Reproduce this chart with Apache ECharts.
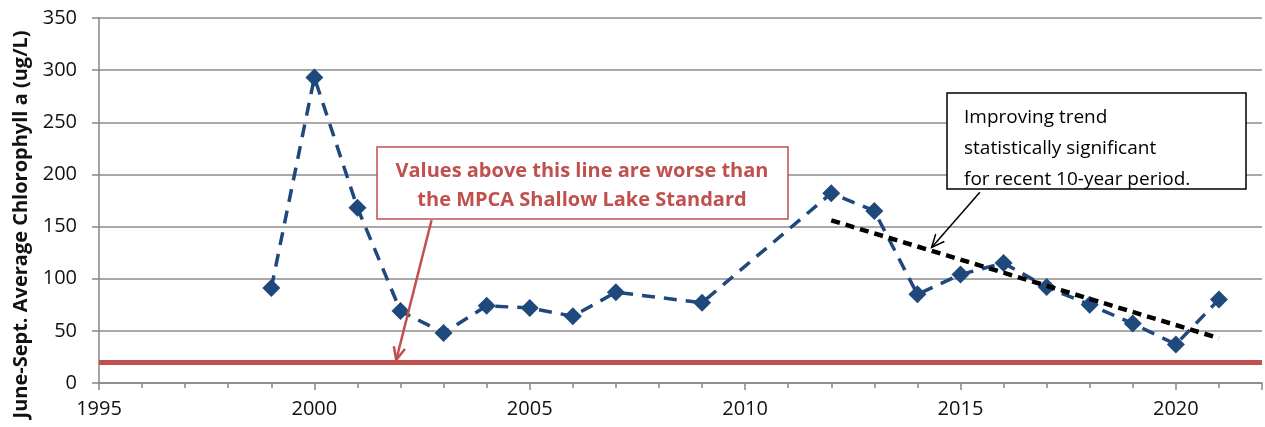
<!DOCTYPE html>
<html>
<head>
<meta charset="utf-8">
<script src="https://cdn.jsdelivr.net/npm/echarts@6/dist/echarts.min.js"></script>
<style>
  html, body { margin: 0; padding: 0; background: #fff; }
  #chart { width: 1265px; height: 427px; }
</style>
</head>
<body>
<div id="chart"></div>
<script>
// chlorophyll-a summer averages (ug/L)
const years = [1999, 2000, 2001, 2002, 2003, 2004, 2005, 2006, 2007, 2009, 2012, 2013, 2014, 2015, 2016, 2017, 2018, 2019, 2020, 2021]
const chla = [91, 293, 168, 69, 48, 74, 72, 64, 87, 77, 182, 165, 85, 104, 115, 92, 75, 57, 37, 80]
// 10-year trend line end points
const trendYears = [2012, 2021]
const trendValues = [156, 43]
// MPCA shallow lake standard
const standard = 20
const yTicks = [0, 50, 100, 150, 200, 250, 300, 350]

const font = '"Open Sans", "Noto Sans", sans-serif'
const red = '#c0504d'
const blue = '#1f497d'

let chart = echarts.init(document.getElementById('chart'))

let option = {
  animation: false,
  grid: { left: 99, right: 2, top: 18, bottom: 44 },
  xAxis: {
    type: 'value',
    min: 1995,
    max: 2022,
    interval: 5,
    axisLine: { show: true, lineStyle: { color: '#868686', width: 1.5 } },
    axisTick: { show: true, length: 7, lineStyle: { color: '#868686', width: 1.5 } },
    minorTick: { show: true, splitNumber: 5, length: 5, lineStyle: { color: '#868686', width: 1.5 } },
    splitLine: { show: false },
    axisLabel: {
      color: '#111',
      fontFamily: font,
      fontSize: 20,
      margin: 16,
      formatter: v => (v % 5 === 0 ? String(v) : '')
    }
  },
  yAxis: {
    type: 'value',
    min: yTicks[0],
    max: yTicks[yTicks.length - 1],
    interval: 50,
    name: 'June-Sept. Average Chlorophyll a (ug/L)',
    nameLocation: 'middle',
    nameGap: 64,
    nameTextStyle: { fontFamily: font, fontWeight: 'bold', fontSize: 20, color: '#111', padding: [0, 48, 0, 0] },
    axisLine: { show: true, lineStyle: { color: '#868686', width: 1.5 } },
    axisTick: { show: true, length: 7, lineStyle: { color: '#868686', width: 1.5 } },
    splitLine: { show: true, lineStyle: { color: '#8c8c8c', width: 1.5 } },
    axisLabel: { color: '#111', fontFamily: font, fontSize: 20, margin: 22 }
  },
  series: [
    {
      type: 'line',
      data: years.map((y, i) => [y, chla[i]]),
      symbol: 'diamond',
      symbolSize: 18,
      itemStyle: { color: blue },
      lineStyle: { color: blue, width: 3.5, type: [13, 9] },
      z: 3,
      markLine: {
        silent: true,
        symbol: 'none',
        label: { show: false },
        lineStyle: { color: red, width: 5, type: 'solid' },
        data: [{ yAxis: standard }]
      }
    },
    {
      type: 'line',
      data: trendYears.map((y, i) => [y, trendValues[i]]),
      symbol: 'none',
      lineStyle: { color: '#000', width: 4.5, type: [9, 6] },
      z: 4
    }
  ]
}
chart.setOption(option)

// arrow shaft + open head, positioned through the chart scales
function arrow(from, to, color, width) {
  let p0 = chart.convertToPixel({ gridIndex: 0 }, from)
  let p1 = chart.convertToPixel({ gridIndex: 0 }, to)
  let ang = Math.atan2(p1[1] - p0[1], p1[0] - p0[0])
  let len = 14, spread = 0.42
  let w1 = [p1[0] - len * Math.cos(ang - spread), p1[1] - len * Math.sin(ang - spread)]
  let w2 = [p1[0] - len * Math.cos(ang + spread), p1[1] - len * Math.sin(ang + spread)]
  return [
    { type: 'polyline', z: 110, shape: { points: [p0, p1] }, style: { stroke: color, lineWidth: width, fill: null } },
    { type: 'polyline', z: 110, shape: { points: [w1, p1, w2] }, style: { stroke: color, lineWidth: width, fill: null } }
  ]
}

chart.setOption({
  graphic: [
    {
      type: 'rect', z: 100,
      shape: { x: 377, y: 147, width: 411, height: 72 },
      style: { fill: '#fff', stroke: red, lineWidth: 1.5 }
    },
    {
      type: 'text', z: 101, x: 582, y: 186,
      style: {
        text: 'Values above this line are worse than\nthe MPCA Shallow Lake Standard',
        fill: red, font: 'bold 20px ' + font, align: 'center', verticalAlign: 'middle', lineHeight: 29
      }
    },
    {
      type: 'rect', z: 100,
      shape: { x: 947, y: 93, width: 299, height: 96 },
      style: { fill: '#fff', stroke: '#000', lineWidth: 1.5 }
    },
    {
      type: 'text', z: 101, x: 964, y: 149,
      style: {
        text: 'Improving trend\nstatistically significant\nfor recent 10-year period.',
        fill: '#000', font: '19px ' + font, align: 'left', verticalAlign: 'middle', lineHeight: 31
      }
    },
    ...arrow([2002.72, 156], [2001.9, 22], red, 2.5),
    ...arrow([2015.45, 183], [2014.33, 130], '#000', 1.5)
  ]
})
</script>
</body>
</html>
